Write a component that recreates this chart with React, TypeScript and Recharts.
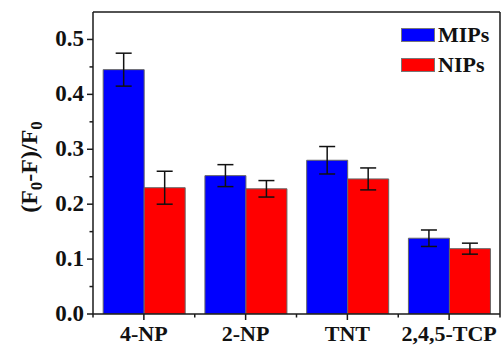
import { BarChart, Bar, XAxis, YAxis, ErrorBar, ReferenceLine, Legend } from 'recharts';

const categories = ['4-NP', '2-NP', 'TNT', '2,4,5-TCP'];
const mipsValues = [0.445, 0.252, 0.28, 0.138];
const mipsErrors = [0.03, 0.02, 0.025, 0.015];
const nipsValues = [0.23, 0.228, 0.246, 0.119];
const nipsErrors = [0.03, 0.015, 0.02, 0.01];
const yTicks = [0, 0.05, 0.1, 0.15, 0.2, 0.25, 0.3, 0.35, 0.4, 0.45, 0.5];

const data = categories.map((name, i) => ({
    name,
    mips: mipsValues[i],
    mipsErr: mipsErrors[i],
    nips: nipsValues[i],
    nipsErr: nipsErrors[i],
}));

const FONT = '"Liberation Serif", "Times New Roman", serif';
const AXIS = '#1a1a1a';
const W = 501;
const H = 346;
const PLOT_LEFT = 93;
const PLOT_RIGHT = 500;
const band = (PLOT_RIGHT - PLOT_LEFT) / categories.length;

const YTick = (props: any) => {
    const { x, y, payload } = props;
    const v = payload.value;
    const major = Math.round(v * 100) % 10 === 0;
    return (
        <g>
            <line x1={x - (major ? 6 : 3.5)} y1={y} x2={x} y2={y} stroke={AXIS} strokeWidth={1.5} />
            {major && (
                <text x={x - 9} y={y + 7} textAnchor="end" fontFamily={FONT} fontWeight="bold" fontSize={23} fill="#111">
                    {v.toFixed(1)}
                </text>
            )}
        </g>
    );
};

const XTick = (props: any) => {
    const { x, y, payload, index } = props;
    return (
        <g>
            <line x1={x} y1={y} x2={x} y2={y + 6} stroke={AXIS} strokeWidth={1.5} />
            <line x1={x + band / 2} y1={y} x2={x + band / 2} y2={y + 3.5} stroke={AXIS} strokeWidth={1.5} />
            {index === 0 && <line x1={x - band / 2} y1={y} x2={x - band / 2} y2={y + 3.5} stroke={AXIS} strokeWidth={1.5} />}
            <text x={x} y={y + 27} textAnchor="middle" fontFamily={FONT} fontWeight="bold" fontSize={22} fill="#111">
                {payload.value}
            </text>
        </g>
    );
};

const YTitle = () => (
    <text
        transform="translate(37,167) rotate(-90)"
        textAnchor="middle"
        fontFamily={FONT}
        fontWeight="bold"
        fontSize={24}
        fill="#111"
    >
        (F<tspan fontSize={17} dy={5}>0</tspan>
        <tspan dy={-5}>-F)/F</tspan>
        <tspan fontSize={17} dy={5}>0</tspan>
    </text>
);

const LegendBox = () => (
    <div style={{ fontFamily: FONT, fontWeight: 'bold', fontSize: 22, color: '#111' }}>
        {[
            { label: 'MIPs', color: '#0000ff' },
            { label: 'NIPs', color: '#ff0000' },
        ].map((it) => (
            <div key={it.label} style={{ display: 'flex', alignItems: 'center', height: 30 }}>
                <span style={{ display: 'inline-block', width: 32, height: 12, background: it.color, border: '1px solid #777', marginRight: 3 }} />
                <span>{it.label}</span>
            </div>
        ))}
    </div>
);

export default function App() {
    return (
        <div style={{ position: 'absolute', left: 0, top: 0, width: W, height: H, background: '#fff' }}>
            <BarChart
                width={W}
                height={H}
                data={data}
                margin={{ top: 12, right: 0, bottom: 0, left: 0 }}
                barCategoryGap="10%"
                barGap={0}
            >
                <XAxis
                    dataKey="name"
                    axisLine={{ stroke: AXIS, strokeWidth: 1.5 }}
                    tickLine={false}
                    tickSize={0}
                    tickMargin={0}
                    tick={<XTick />}
                    height={32}
                    interval={0}
                />
                <YAxis
                    domain={[0, 0.55]}
                    ticks={yTicks}
                    width={PLOT_LEFT}
                    axisLine={{ stroke: AXIS, strokeWidth: 1.5 }}
                    tickLine={false}
                    tickSize={0}
                    tickMargin={0}
                    tick={<YTick />}
                    label={<YTitle />}
                    allowDataOverflow
                />
                <YAxis
                    yAxisId="r"
                    orientation="right"
                    domain={[0, 0.55]}
                    width={1}
                    tick={false}
                    tickLine={false}
                    axisLine={{ stroke: AXIS, strokeWidth: 1.5 }}
                />
                <ReferenceLine y={0.55} stroke={AXIS} strokeWidth={1.5} />
                <Legend
                    layout="vertical"
                    verticalAlign="middle"
                    align="center"
                    content={<LegendBox />}
                    wrapperStyle={{ position: 'absolute', top: 20, left: 401, width: 100 }}
                />
                <Bar dataKey="mips" name="MIPs" fill="#0000ff" stroke="#666" strokeWidth={1} isAnimationActive={false}>
                    <ErrorBar dataKey="mipsErr" width={8} stroke="#111" strokeWidth={1.5} isAnimationActive={false} />
                </Bar>
                <Bar dataKey="nips" name="NIPs" fill="#ff0000" stroke="#666" strokeWidth={1} isAnimationActive={false}>
                    <ErrorBar dataKey="nipsErr" width={8} stroke="#111" strokeWidth={1.5} isAnimationActive={false} />
                </Bar>
            </BarChart>
        </div>
    );
}
